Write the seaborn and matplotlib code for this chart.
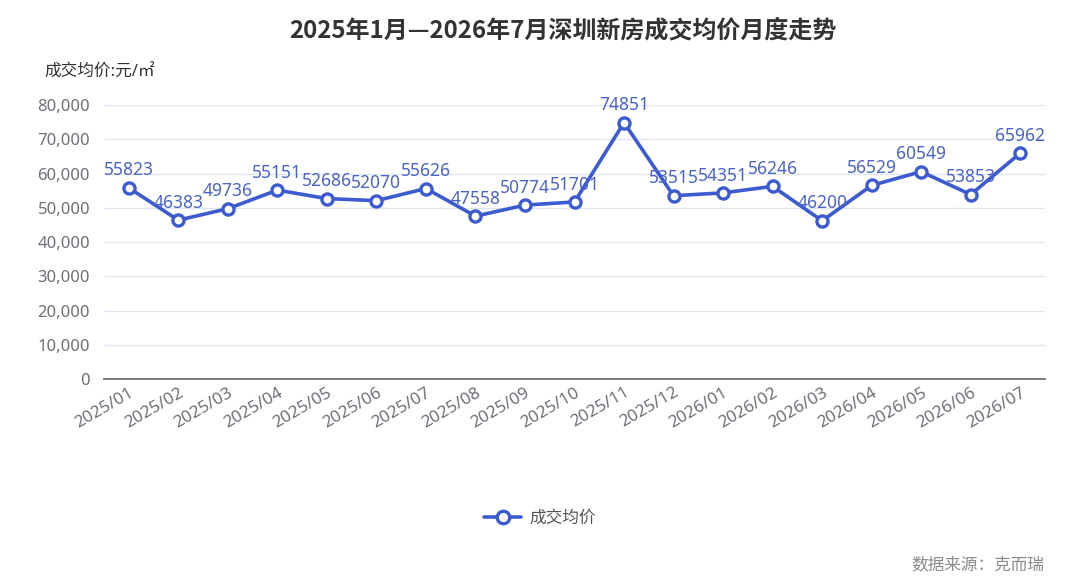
import matplotlib
matplotlib.use("Agg")
import matplotlib.pyplot as plt
import seaborn as sns
import pandas as pd
from matplotlib.lines import Line2D
from matplotlib.ticker import FuncFormatter, MultipleLocator

months = ["2025/01", "2025/02", "2025/03", "2025/04", "2025/05", "2025/06", "2025/07",
          "2025/08", "2025/09", "2025/10", "2025/11", "2025/12", "2026/01", "2026/02",
          "2026/03", "2026/04", "2026/05", "2026/06", "2026/07"]
prices = [55823, 46383, 49736, 55151, 52686, 52070, 55626, 47558, 50774, 51701,
          74851, 53515, 54351, 56246, 46200, 56529, 60549, 53853, 65962]
series_name = "成交均价"
title = "2025年1月—2026年7月深圳新房成交均价月度走势"
y_label = "成交均价:元/㎡"
source = "数据来源：克而瑞"

sns.set_theme(style="white")
plt.rcParams["font.family"] = ["Noto Sans", "Noto Sans CJK SC", "DejaVu Sans"]
plt.rcParams["axes.unicode_minus"] = False

LINE = "#3d5bd0"
LABEL = "#4a63c6"
TICK = "#6e7079"
GRID = "#e0e6f1"

df = pd.DataFrame({"month": months, "price": prices})

fig = plt.figure(figsize=(10.8, 5.88), dpi=100)
ax = fig.add_axes([0.0963, 0.3554, 0.8713, 0.466])

sns.lineplot(data=df, x="month", y="price", ax=ax, color=LINE, linewidth=2.6,
             marker="o", markersize=8, markerfacecolor="white",
             markeredgecolor=LINE, markeredgewidth=2.4, sort=False, legend=False)

for i, v in enumerate(prices):
    ax.annotate(str(v), (i, v), xytext=(0, 6), textcoords="offset points",
                ha="center", va="bottom", fontsize=12.5, color=LABEL)

ax.set_xlim(-0.5, len(months) - 0.5)
ax.set_ylim(0, 80000)
ax.yaxis.set_major_locator(MultipleLocator(10000))
ax.yaxis.set_major_formatter(FuncFormatter(lambda v, p: f"{int(v):,}"))
ax.grid(axis="y", color=GRID, linewidth=1)
ax.grid(axis="x", visible=False)
for s in ["top", "right", "left"]:
    ax.spines[s].set_visible(False)
ax.spines["bottom"].set_color(TICK)
ax.spines["bottom"].set_linewidth(1.3)
ax.set_xlabel("")
ax.set_ylabel("")
ax.tick_params(axis="y", length=0, pad=10, labelsize=12, labelcolor=TICK)
ax.tick_params(axis="x", length=0, pad=4, labelsize=12.3, labelcolor=TICK)
ax.set_xticks(range(len(months)))
ax.set_xticklabels(months, rotation=30, ha="right", rotation_mode="anchor")

fig.text(0.521, 0.948, title, ha="center", va="center", fontsize=17.3,
         fontweight="bold", color="#333333",
         family=["Noto Sans CJK SC", "DejaVu Sans"])
fig.text(0.041, 0.876, y_label, ha="left", va="center", fontsize=12, color="#333333")

handle = Line2D([0], [0], color=LINE, linewidth=2.6, marker="o", markersize=9,
                markerfacecolor="white", markeredgecolor=LINE, markeredgewidth=2.4)
fig.legend([handle], [series_name], loc="center", bbox_to_anchor=(0.5, 0.117),
           frameon=False, fontsize=12, labelcolor="#555555", handlelength=2.2,
           handletextpad=0.5)

fig.text(0.967, 0.039, source, ha="right", va="center", fontsize=12, color="#8a8a8a")

fig.savefig("out.png", dpi=100)
